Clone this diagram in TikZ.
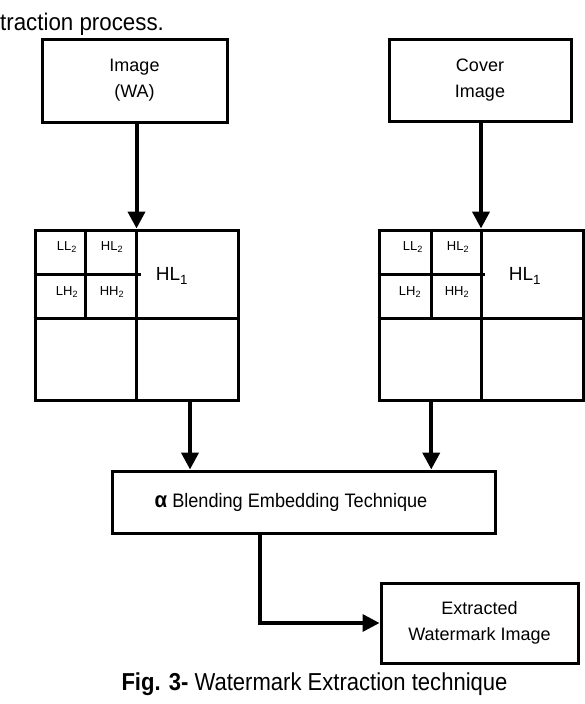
\documentclass[tikz,border=0pt]{standalone}
\usepackage{fontspec}
\setmainfont{Liberation Sans}
\newfontfamily\condfont[FakeStretch=0.9]{Liberation Sans}
\newfontfamily\semicond[FakeStretch=0.93]{Liberation Sans}
\usetikzlibrary{arrows.meta,calc}
\begin{document}
\begin{tikzpicture}[x=1pt,y=-1pt,
  box/.style={draw,line width=3pt,inner sep=0pt,align=center,font=\fontsize{18}{26}\selectfont},
  gridbox/.style={draw,line width=3pt,inner sep=0pt,minimum width=203pt,minimum height=170pt},
  gridline/.style={line width=3pt},
  arr/.style={line width=4pt,-{Triangle[length=17pt,width=17pt]}},
  small/.style={inner sep=0pt,font=\fontsize{13}{15}\selectfont},
  big/.style={inner sep=0pt,font=\fontsize{19}{22}\selectfont}]
\useasboundingbox (0,0) rectangle (584,704);

% top text
\node[anchor=base west,inner sep=0pt,font=\semicond\fontsize{24}{26}\selectfont] (toptext) at (0,30) {traction process.};

% boxes
\node[box,minimum width=185pt,minimum height=83pt] (img) at (134.5,80.5) {Image\\(WA)};
\node[box,minimum width=182pt,minimum height=82pt] (cover) at (480,80) {Cover\\Image};
\node[gridbox] (gridL) at (136.5,315) {};
\node[gridbox,minimum width=204pt] (gridR) at (481,315) {};
\node[box,minimum width=383pt,minimum height=62pt,font=\semicond\fontsize{19.5}{22}\selectfont] (blend) at (303.5,502)
  {{\fontsize{22}{22}\selectfont\textbf{α}} Blending Embedding Technique\hspace*{25pt}};
\node[box,minimum width=197pt,minimum height=80pt] (extr) at (479.5,623) {Extracted\\Watermark Image};

% left grid internals
\draw[gridline] (gridL.north) -- (gridL.south);
\coordinate (Lm) at ($(gridL.west)+(0,3)$);
\draw[gridline] (Lm) -- ($(gridL.east)+(0,3)$);
\draw[gridline] ($(gridL.north west)+(52,0)$) -- ($(Lm)+(52,0)$);
\draw[gridline] ($(gridL.north west)+(0,46)$) -- ($(gridL.north)+(4,46)$);

% right grid internals
\draw[gridline] (gridR.north) -- (gridR.south);
\coordinate (Rm) at ($(gridR.west)+(0,3)$);
\draw[gridline] (Rm) -- ($(gridR.east)+(0,3)$);
\draw[gridline] ($(gridR.north west)+(54,0)$) -- ($(Rm)+(54,0)$);
\draw[gridline] ($(gridR.north west)+(0,46)$) -- ($(gridR.north)+(4,46)$);

% grid labels
\node[small] (lLL) at (67,247) {LL\textsubscript{2}};
\node[small] (lHL) at (112,247) {HL\textsubscript{2}};
\node[small] (lLH) at (67,292) {LH\textsubscript{2}};
\node[small] (lHH) at (112,292) {HH\textsubscript{2}};
\node[big] (lHL1) at (172,276) {HL\textsubscript{1}};
\node[small] (rLL) at (413,247) {LL\textsubscript{2}};
\node[small] (rHL) at (458,247) {HL\textsubscript{2}};
\node[small] (rLH) at (410,292) {LH\textsubscript{2}};
\node[small] (rHH) at (457,292) {HH\textsubscript{2}};
\node[big] (rHL1) at (525,276) {HL\textsubscript{1}};

% connectors
\draw[arr] (img.south -| gridL.north) -- (gridL.north);
\draw[arr] (cover.south -| gridR.north) -- (gridR.north);
\coordinate (gLb) at ($(gridL.south)!0.5!(gridL.south east)+(2,0)$);
\coordinate (gRb) at ($(gridR.south west)!0.5!(gridR.south)+(2,0)$);
\draw[arr] (gLb) -- (gLb |- blend.north);
\draw[arr] (gRb) -- (gRb |- blend.north);
\draw[line width=3.5pt,-{Triangle[length=17pt,width=17pt]}] ([xshift=-43.5pt]blend.south) |- (extr.west);

% caption
\node[anchor=base,inner sep=0pt,font=\condfont\fontsize{24.5}{26}\selectfont] (caption) at (314.5,690)
  {\textbf{Fig. 3-} Watermark Extraction technique};
\end{tikzpicture}
\end{document}
